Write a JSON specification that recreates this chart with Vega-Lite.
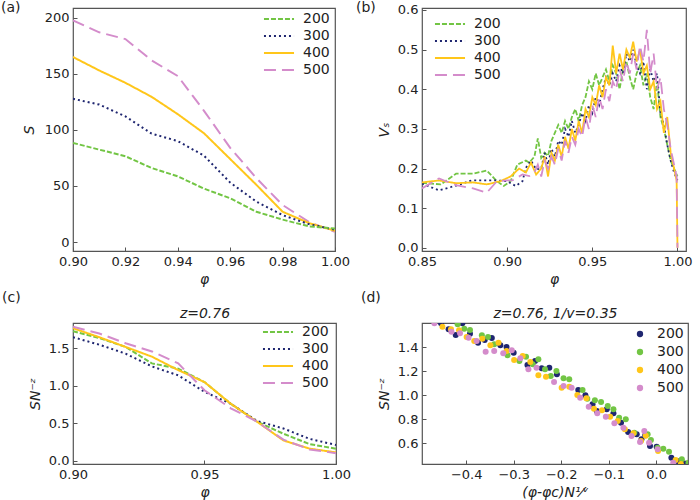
{
"$schema": "https://vega.github.io/schema/vega-lite/v6.json",
"padding": {"left": 0, "top": 0, "right": 0, "bottom": 0},
"background": "white",
"config": {
 "font": "DejaVu Sans",
 "view": {"stroke": "#555555", "strokeWidth": 1.2},
 "axis": {"domain": false, "grid": false, "labelFontSize": 13, "labelColor": "#222222", "titleFontSize": 14, "titleColor": "#222222", "titleFontWeight": "normal", "titleFontStyle": "italic", "tickColor": "#555555", "tickSize": -4, "labelPadding": 8, "labelFlush": false, "labelOverlap": false},
 "title": {"fontSize": 14, "fontWeight": "normal", "anchor": "start", "frame": "group", "color": "#222222"},
 "legend": {"labelFontSize": 14, "labelColor": "#222222"}
},
"datasets": {
 "a": [
  {"phi":0.90,"S":197.6,"N":"500"},{"phi":0.91,"S":187,"N":"500"},{"phi":0.92,"S":181,"N":"500"},{"phi":0.93,"S":162,"N":"500"},{"phi":0.94,"S":148,"N":"500"},{"phi":0.95,"S":117,"N":"500"},{"phi":0.96,"S":84,"N":"500"},{"phi":0.97,"S":57,"N":"500"},{"phi":0.98,"S":33,"N":"500"},{"phi":0.99,"S":18,"N":"500"},{"phi":1.00,"S":9,"N":"500"},
  {"phi":0.90,"S":165,"N":"400"},{"phi":0.91,"S":153,"N":"400"},{"phi":0.92,"S":142,"N":"400"},{"phi":0.93,"S":129.5,"N":"400"},{"phi":0.94,"S":114,"N":"400"},{"phi":0.95,"S":97,"N":"400"},{"phi":0.96,"S":74,"N":"400"},{"phi":0.97,"S":51,"N":"400"},{"phi":0.98,"S":27,"N":"400"},{"phi":0.99,"S":17,"N":"400"},{"phi":1.00,"S":10,"N":"400"},
  {"phi":0.90,"S":127.7,"N":"300"},{"phi":0.91,"S":122.6,"N":"300"},{"phi":0.92,"S":112,"N":"300"},{"phi":0.93,"S":96.7,"N":"300"},{"phi":0.94,"S":90,"N":"300"},{"phi":0.95,"S":77,"N":"300"},{"phi":0.96,"S":53,"N":"300"},{"phi":0.97,"S":36,"N":"300"},{"phi":0.98,"S":24,"N":"300"},{"phi":0.99,"S":16,"N":"300"},{"phi":1.00,"S":11,"N":"300"},
  {"phi":0.90,"S":88.4,"N":"200"},{"phi":0.91,"S":82.4,"N":"200"},{"phi":0.92,"S":76.5,"N":"200"},{"phi":0.93,"S":66,"N":"200"},{"phi":0.94,"S":58.6,"N":"200"},{"phi":0.95,"S":47.6,"N":"200"},{"phi":0.96,"S":39,"N":"200"},{"phi":0.97,"S":27,"N":"200"},{"phi":0.98,"S":20,"N":"200"},{"phi":0.99,"S":14,"N":"200"},{"phi":1.00,"S":12,"N":"200"}
 ],
 "b": [
  {"phi":0.85,"v":0.164,"N":"200"},{"phi":0.861,"v":0.16,"N":"200"},{"phi":0.87,"v":0.187,"N":"200"},{"phi":0.88,"v":0.187,"N":"200"},{"phi":0.888,"v":0.195,"N":"200"},{"phi":0.894,"v":0.168,"N":"200"},{"phi":0.898,"v":0.156,"N":"200"},{"phi":0.902,"v":0.168,"N":"200"},{"phi":0.906,"v":0.21,"N":"200"},{"phi":0.911,"v":0.22,"N":"200"},{"phi":0.913,"v":0.215,"N":"200"},{"phi":0.916,"v":0.23,"N":"200"},{"phi":0.918,"v":0.276,"N":"200"},{"phi":0.92,"v":0.227,"N":"200"},{"phi":0.922,"v":0.24,"N":"200"},{"phi":0.924,"v":0.232,"N":"200"},{"phi":0.926,"v":0.27,"N":"200"},{"phi":0.928,"v":0.29,"N":"200"},{"phi":0.93,"v":0.31,"N":"200"},{"phi":0.932,"v":0.29,"N":"200"},{"phi":0.934,"v":0.32,"N":"200"},{"phi":0.936,"v":0.3,"N":"200"},{"phi":0.938,"v":0.33,"N":"200"},{"phi":0.94,"v":0.35,"N":"200"},{"phi":0.942,"v":0.32,"N":"200"},{"phi":0.944,"v":0.36,"N":"200"},{"phi":0.946,"v":0.38,"N":"200"},{"phi":0.948,"v":0.42,"N":"200"},{"phi":0.95,"v":0.4,"N":"200"},{"phi":0.952,"v":0.44,"N":"200"},{"phi":0.954,"v":0.41,"N":"200"},{"phi":0.956,"v":0.43,"N":"200"},{"phi":0.958,"v":0.45,"N":"200"},{"phi":0.96,"v":0.42,"N":"200"},{"phi":0.962,"v":0.46,"N":"200"},{"phi":0.964,"v":0.44,"N":"200"},{"phi":0.966,"v":0.4,"N":"200"},{"phi":0.968,"v":0.45,"N":"200"},{"phi":0.97,"v":0.47,"N":"200"},{"phi":0.972,"v":0.43,"N":"200"},{"phi":0.974,"v":0.4,"N":"200"},{"phi":0.976,"v":0.44,"N":"200"},{"phi":0.978,"v":0.46,"N":"200"},{"phi":0.98,"v":0.41,"N":"200"},{"phi":0.982,"v":0.44,"N":"200"},{"phi":0.984,"v":0.38,"N":"200"},{"phi":0.986,"v":0.35,"N":"200"},{"phi":0.988,"v":0.42,"N":"200"},{"phi":0.99,"v":0.33,"N":"200"},{"phi":0.992,"v":0.3,"N":"200"},{"phi":0.994,"v":0.26,"N":"200"},{"phi":0.996,"v":0.22,"N":"200"},{"phi":0.998,"v":0.2,"N":"200"},{"phi":1.0,"v":0.18,"N":"200"},
  {"phi":0.85,"v":0.162,"N":"300"},{"phi":0.86,"v":0.145,"N":"300"},{"phi":0.871,"v":0.158,"N":"300"},{"phi":0.879,"v":0.17,"N":"300"},{"phi":0.888,"v":0.17,"N":"300"},{"phi":0.894,"v":0.17,"N":"300"},{"phi":0.9,"v":0.168,"N":"300"},{"phi":0.905,"v":0.156,"N":"300"},{"phi":0.909,"v":0.168,"N":"300"},{"phi":0.911,"v":0.202,"N":"300"},{"phi":0.914,"v":0.22,"N":"300"},{"phi":0.917,"v":0.198,"N":"300"},{"phi":0.92,"v":0.2,"N":"300"},{"phi":0.922,"v":0.24,"N":"300"},{"phi":0.924,"v":0.21,"N":"300"},{"phi":0.926,"v":0.25,"N":"300"},{"phi":0.928,"v":0.23,"N":"300"},{"phi":0.93,"v":0.27,"N":"300"},{"phi":0.932,"v":0.26,"N":"300"},{"phi":0.934,"v":0.3,"N":"300"},{"phi":0.936,"v":0.28,"N":"300"},{"phi":0.938,"v":0.32,"N":"300"},{"phi":0.94,"v":0.29,"N":"300"},{"phi":0.942,"v":0.31,"N":"300"},{"phi":0.944,"v":0.34,"N":"300"},{"phi":0.946,"v":0.32,"N":"300"},{"phi":0.948,"v":0.36,"N":"300"},{"phi":0.95,"v":0.34,"N":"300"},{"phi":0.952,"v":0.38,"N":"300"},{"phi":0.954,"v":0.36,"N":"300"},{"phi":0.956,"v":0.4,"N":"300"},{"phi":0.958,"v":0.43,"N":"300"},{"phi":0.96,"v":0.41,"N":"300"},{"phi":0.962,"v":0.44,"N":"300"},{"phi":0.964,"v":0.42,"N":"300"},{"phi":0.966,"v":0.46,"N":"300"},{"phi":0.968,"v":0.44,"N":"300"},{"phi":0.97,"v":0.49,"N":"300"},{"phi":0.972,"v":0.47,"N":"300"},{"phi":0.974,"v":0.5,"N":"300"},{"phi":0.976,"v":0.46,"N":"300"},{"phi":0.978,"v":0.44,"N":"300"},{"phi":0.98,"v":0.47,"N":"300"},{"phi":0.982,"v":0.4,"N":"300"},{"phi":0.984,"v":0.45,"N":"300"},{"phi":0.986,"v":0.42,"N":"300"},{"phi":0.988,"v":0.44,"N":"300"},{"phi":0.99,"v":0.34,"N":"300"},{"phi":0.992,"v":0.31,"N":"300"},{"phi":0.994,"v":0.26,"N":"300"},{"phi":0.996,"v":0.22,"N":"300"},{"phi":0.998,"v":0.19,"N":"300"},{"phi":1.0,"v":0.17,"N":"300"},
  {"phi":0.85,"v":0.165,"N":"400"},{"phi":0.86,"v":0.17,"N":"400"},{"phi":0.87,"v":0.163,"N":"400"},{"phi":0.88,"v":0.165,"N":"400"},{"phi":0.888,"v":0.16,"N":"400"},{"phi":0.896,"v":0.168,"N":"400"},{"phi":0.902,"v":0.18,"N":"400"},{"phi":0.907,"v":0.2,"N":"400"},{"phi":0.911,"v":0.19,"N":"400"},{"phi":0.914,"v":0.215,"N":"400"},{"phi":0.917,"v":0.185,"N":"400"},{"phi":0.92,"v":0.2,"N":"400"},{"phi":0.922,"v":0.23,"N":"400"},{"phi":0.924,"v":0.18,"N":"400"},{"phi":0.926,"v":0.24,"N":"400"},{"phi":0.928,"v":0.22,"N":"400"},{"phi":0.93,"v":0.26,"N":"400"},{"phi":0.932,"v":0.23,"N":"400"},{"phi":0.934,"v":0.28,"N":"400"},{"phi":0.936,"v":0.25,"N":"400"},{"phi":0.938,"v":0.3,"N":"400"},{"phi":0.94,"v":0.27,"N":"400"},{"phi":0.942,"v":0.32,"N":"400"},{"phi":0.944,"v":0.29,"N":"400"},{"phi":0.946,"v":0.35,"N":"400"},{"phi":0.948,"v":0.33,"N":"400"},{"phi":0.95,"v":0.38,"N":"400"},{"phi":0.952,"v":0.36,"N":"400"},{"phi":0.954,"v":0.41,"N":"400"},{"phi":0.956,"v":0.38,"N":"400"},{"phi":0.958,"v":0.43,"N":"400"},{"phi":0.96,"v":0.41,"N":"400"},{"phi":0.962,"v":0.51,"N":"400"},{"phi":0.964,"v":0.44,"N":"400"},{"phi":0.966,"v":0.49,"N":"400"},{"phi":0.968,"v":0.45,"N":"400"},{"phi":0.97,"v":0.5,"N":"400"},{"phi":0.972,"v":0.48,"N":"400"},{"phi":0.974,"v":0.52,"N":"400"},{"phi":0.976,"v":0.47,"N":"400"},{"phi":0.978,"v":0.5,"N":"400"},{"phi":0.98,"v":0.44,"N":"400"},{"phi":0.982,"v":0.46,"N":"400"},{"phi":0.984,"v":0.4,"N":"400"},{"phi":0.986,"v":0.42,"N":"400"},{"phi":0.988,"v":0.35,"N":"400"},{"phi":0.99,"v":0.37,"N":"400"},{"phi":0.992,"v":0.29,"N":"400"},{"phi":0.994,"v":0.33,"N":"400"},{"phi":0.996,"v":0.24,"N":"400"},{"phi":0.998,"v":0.2,"N":"400"},{"phi":0.9995,"v":0.17,"N":"400"},{"phi":1.0,"v":0.0,"N":"400"},
  {"phi":0.85,"v":0.15,"N":"500"},{"phi":0.86,"v":0.175,"N":"500"},{"phi":0.87,"v":0.158,"N":"500"},{"phi":0.88,"v":0.15,"N":"500"},{"phi":0.888,"v":0.139,"N":"500"},{"phi":0.894,"v":0.168,"N":"500"},{"phi":0.9,"v":0.17,"N":"500"},{"phi":0.903,"v":0.17,"N":"500"},{"phi":0.909,"v":0.185,"N":"500"},{"phi":0.913,"v":0.181,"N":"500"},{"phi":0.916,"v":0.19,"N":"500"},{"phi":0.918,"v":0.21,"N":"500"},{"phi":0.92,"v":0.18,"N":"500"},{"phi":0.922,"v":0.22,"N":"500"},{"phi":0.924,"v":0.2,"N":"500"},{"phi":0.926,"v":0.23,"N":"500"},{"phi":0.928,"v":0.21,"N":"500"},{"phi":0.93,"v":0.25,"N":"500"},{"phi":0.932,"v":0.22,"N":"500"},{"phi":0.934,"v":0.27,"N":"500"},{"phi":0.936,"v":0.24,"N":"500"},{"phi":0.938,"v":0.28,"N":"500"},{"phi":0.94,"v":0.26,"N":"500"},{"phi":0.942,"v":0.3,"N":"500"},{"phi":0.944,"v":0.28,"N":"500"},{"phi":0.946,"v":0.33,"N":"500"},{"phi":0.948,"v":0.3,"N":"500"},{"phi":0.95,"v":0.36,"N":"500"},{"phi":0.952,"v":0.33,"N":"500"},{"phi":0.954,"v":0.38,"N":"500"},{"phi":0.956,"v":0.35,"N":"500"},{"phi":0.958,"v":0.4,"N":"500"},{"phi":0.96,"v":0.37,"N":"500"},{"phi":0.962,"v":0.42,"N":"500"},{"phi":0.964,"v":0.4,"N":"500"},{"phi":0.966,"v":0.45,"N":"500"},{"phi":0.968,"v":0.42,"N":"500"},{"phi":0.97,"v":0.47,"N":"500"},{"phi":0.972,"v":0.44,"N":"500"},{"phi":0.974,"v":0.49,"N":"500"},{"phi":0.976,"v":0.45,"N":"500"},{"phi":0.978,"v":0.51,"N":"500"},{"phi":0.98,"v":0.47,"N":"500"},{"phi":0.982,"v":0.55,"N":"500"},{"phi":0.984,"v":0.44,"N":"500"},{"phi":0.986,"v":0.49,"N":"500"},{"phi":0.988,"v":0.4,"N":"500"},{"phi":0.99,"v":0.43,"N":"500"},{"phi":0.992,"v":0.35,"N":"500"},{"phi":0.994,"v":0.31,"N":"500"},{"phi":0.996,"v":0.25,"N":"500"},{"phi":0.998,"v":0.21,"N":"500"},{"phi":0.9995,"v":0.18,"N":"500"},{"phi":1.0,"v":0.0,"N":"500"}
 ],
 "c": [
  {"phi":0.90,"v":1.73,"N":"200"},{"phi":0.91,"v":1.64,"N":"200"},{"phi":0.92,"v":1.52,"N":"200"},{"phi":0.93,"v":1.30,"N":"200"},{"phi":0.94,"v":1.23,"N":"200"},{"phi":0.95,"v":1.05,"N":"200"},{"phi":0.96,"v":0.76,"N":"200"},{"phi":0.97,"v":0.52,"N":"200"},{"phi":0.98,"v":0.36,"N":"200"},{"phi":0.99,"v":0.22,"N":"200"},{"phi":1.00,"v":0.16,"N":"200"},
  {"phi":0.90,"v":1.65,"N":"300"},{"phi":0.91,"v":1.55,"N":"300"},{"phi":0.92,"v":1.43,"N":"300"},{"phi":0.93,"v":1.26,"N":"300"},{"phi":0.94,"v":1.14,"N":"300"},{"phi":0.95,"v":0.92,"N":"300"},{"phi":0.96,"v":0.76,"N":"300"},{"phi":0.97,"v":0.53,"N":"300"},{"phi":0.98,"v":0.43,"N":"300"},{"phi":0.99,"v":0.29,"N":"300"},{"phi":1.00,"v":0.21,"N":"300"},
  {"phi":0.90,"v":1.77,"N":"400"},{"phi":0.91,"v":1.65,"N":"400"},{"phi":0.92,"v":1.52,"N":"400"},{"phi":0.93,"v":1.39,"N":"400"},{"phi":0.94,"v":1.21,"N":"400"},{"phi":0.95,"v":1.05,"N":"400"},{"phi":0.96,"v":0.76,"N":"400"},{"phi":0.97,"v":0.52,"N":"400"},{"phi":0.98,"v":0.27,"N":"400"},{"phi":0.99,"v":0.16,"N":"400"},{"phi":1.00,"v":0.11,"N":"400"},
  {"phi":0.90,"v":1.79,"N":"500"},{"phi":0.91,"v":1.70,"N":"500"},{"phi":0.92,"v":1.57,"N":"500"},{"phi":0.93,"v":1.46,"N":"500"},{"phi":0.94,"v":1.30,"N":"500"},{"phi":0.95,"v":0.94,"N":"500"},{"phi":0.96,"v":0.70,"N":"500"},{"phi":0.97,"v":0.52,"N":"500"},{"phi":0.98,"v":0.28,"N":"500"},{"phi":0.99,"v":0.15,"N":"500"},{"phi":1.00,"v":0.10,"N":"500"}
 ],
 "d": [
  {"x":-0.453,"v":1.597,"N":"200"},{"x":-0.437,"v":1.547,"N":"200"},{"x":-0.422,"v":1.5,"N":"200"},{"x":-0.408,"v":1.597,"N":"200"},{"x":-0.392,"v":1.511,"N":"200"},{"x":-0.375,"v":1.436,"N":"200"},{"x":-0.361,"v":1.458,"N":"200"},{"x":-0.346,"v":1.475,"N":"200"},{"x":-0.328,"v":1.414,"N":"200"},{"x":-0.315,"v":1.4,"N":"200"},{"x":-0.3,"v":1.353,"N":"200"},{"x":-0.271,"v":1.25,"N":"200"},{"x":-0.255,"v":1.283,"N":"200"},{"x":-0.241,"v":1.222,"N":"200"},{"x":-0.225,"v":1.228,"N":"200"},{"x":-0.209,"v":1.172,"N":"200"},{"x":-0.164,"v":1.042,"N":"200"},{"x":-0.149,"v":0.997,"N":"200"},{"x":-0.134,"v":0.922,"N":"200"},{"x":-0.125,"v":0.867,"N":"200"},{"x":-0.104,"v":0.881,"N":"200"},{"x":-0.09,"v":0.847,"N":"200"},{"x":-0.074,"v":0.769,"N":"200"},{"x":-0.059,"v":0.692,"N":"200"},{"x":-0.041,"v":0.672,"N":"200"},{"x":-0.031,"v":0.631,"N":"200"},{"x":-0.023,"v":0.664,"N":"200"},{"x":-0.013,"v":0.575,"N":"200"},{"x":0.001,"v":0.569,"N":"200"},{"x":0.032,"v":0.478,"N":"200"},{"x":0.046,"v":0.447,"N":"200"},{"x":0.06,"v":0.43,"N":"200"},
  {"x":-0.418,"v":1.589,"N":"300"},{"x":-0.404,"v":1.553,"N":"300"},{"x":-0.392,"v":1.542,"N":"300"},{"x":-0.367,"v":1.497,"N":"300"},{"x":-0.354,"v":1.483,"N":"300"},{"x":-0.341,"v":1.422,"N":"300"},{"x":-0.313,"v":1.331,"N":"300"},{"x":-0.288,"v":1.283,"N":"300"},{"x":-0.274,"v":1.319,"N":"300"},{"x":-0.26,"v":1.256,"N":"300"},{"x":-0.248,"v":1.297,"N":"300"},{"x":-0.234,"v":1.214,"N":"300"},{"x":-0.222,"v":1.158,"N":"300"},{"x":-0.21,"v":1.2,"N":"300"},{"x":-0.195,"v":1.139,"N":"300"},{"x":-0.183,"v":1.131,"N":"300"},{"x":-0.155,"v":1.042,"N":"300"},{"x":-0.145,"v":0.969,"N":"300"},{"x":-0.129,"v":0.956,"N":"300"},{"x":-0.116,"v":0.942,"N":"300"},{"x":-0.102,"v":0.908,"N":"300"},{"x":-0.09,"v":0.881,"N":"300"},{"x":-0.078,"v":0.811,"N":"300"},{"x":-0.064,"v":0.797,"N":"300"},{"x":-0.046,"v":0.686,"N":"300"},{"x":-0.018,"v":0.672,"N":"300"},{"x":-0.011,"v":0.625,"N":"300"},{"x":0.003,"v":0.56,"N":"300"},{"x":0.015,"v":0.553,"N":"300"},{"x":0.027,"v":0.528,"N":"300"},{"x":0.054,"v":0.464,"N":"300"},{"x":0.068,"v":0.436,"N":"300"},
  {"x":-0.45,"v":1.569,"N":"400"},{"x":-0.432,"v":1.547,"N":"400"},{"x":-0.415,"v":1.539,"N":"400"},{"x":-0.399,"v":1.483,"N":"400"},{"x":-0.383,"v":1.45,"N":"400"},{"x":-0.366,"v":1.469,"N":"400"},{"x":-0.349,"v":1.414,"N":"400"},{"x":-0.332,"v":1.436,"N":"400"},{"x":-0.315,"v":1.367,"N":"400"},{"x":-0.299,"v":1.292,"N":"400"},{"x":-0.281,"v":1.325,"N":"400"},{"x":-0.265,"v":1.275,"N":"400"},{"x":-0.248,"v":1.164,"N":"400"},{"x":-0.232,"v":1.153,"N":"400"},{"x":-0.199,"v":1.061,"N":"400"},{"x":-0.183,"v":1.069,"N":"400"},{"x":-0.166,"v":1.0,"N":"400"},{"x":-0.147,"v":0.972,"N":"400"},{"x":-0.131,"v":0.886,"N":"400"},{"x":-0.114,"v":0.872,"N":"400"},{"x":-0.097,"v":0.819,"N":"400"},{"x":-0.081,"v":0.783,"N":"400"},{"x":-0.066,"v":0.714,"N":"400"},{"x":-0.048,"v":0.681,"N":"400"},{"x":-0.032,"v":0.617,"N":"400"},{"x":-0.022,"v":0.66,"N":"400"},{"x":0.004,"v":0.533,"N":"400"},{"x":0.041,"v":0.458,"N":"400"},{"x":0.052,"v":0.425,"N":"400"},
  {"x":-0.467,"v":1.597,"N":"500"},{"x":-0.431,"v":1.528,"N":"500"},{"x":-0.413,"v":1.514,"N":"500"},{"x":-0.395,"v":1.478,"N":"500"},{"x":-0.378,"v":1.45,"N":"500"},{"x":-0.359,"v":1.361,"N":"500"},{"x":-0.341,"v":1.367,"N":"500"},{"x":-0.322,"v":1.347,"N":"500"},{"x":-0.304,"v":1.372,"N":"500"},{"x":-0.286,"v":1.306,"N":"500"},{"x":-0.269,"v":1.214,"N":"500"},{"x":-0.252,"v":1.228,"N":"500"},{"x":-0.215,"v":1.108,"N":"500"},{"x":-0.195,"v":1.075,"N":"500"},{"x":-0.178,"v":1.061,"N":"500"},{"x":-0.16,"v":0.978,"N":"500"},{"x":-0.142,"v":0.903,"N":"500"},{"x":-0.124,"v":0.847,"N":"500"},{"x":-0.106,"v":0.819,"N":"500"},{"x":-0.088,"v":0.764,"N":"500"},{"x":-0.069,"v":0.728,"N":"500"},{"x":-0.052,"v":0.658,"N":"500"},{"x":-0.034,"v":0.608,"N":"500"},{"x":-0.025,"v":0.7,"N":"500"},{"x":-0.015,"v":0.603,"N":"500"},{"x":0.003,"v":0.547,"N":"500"},{"x":0.036,"v":0.436,"N":"500"}
 ]
},
"columns": 2,
"spacing": {"row": 72, "column": 86},
"bounds": "flush",
"resolve": {"scale": {"x": "independent", "y": "independent", "color": "independent", "strokeDash": "independent"}, "legend": {"color": "independent", "strokeDash": "independent"}, "axis": {"x": "independent", "y": "independent"}},
"concat": [
 {
  "width": 262, "height": 243,
  "data": {"name": "a"},
  "title": {"text": "(a)", "dx": -72, "offset": -7},
  "mark": {"type": "line", "strokeWidth": 2, "clip": true},
  "encoding": {
   "x": {"field": "phi", "type": "quantitative", "scale": {"domain": [0.9, 1.0], "nice": false, "zero": false}, "axis": {"title": "φ", "values": [0.9, 0.92, 0.94, 0.96, 0.98, 1.0], "format": ".2f"}},
   "y": {"field": "S", "type": "quantitative", "scale": {"domain": [-8, 208.7], "nice": false, "zero": false}, "axis": {"title": "S", "values": [0, 50, 100, 150, 200], "titlePadding": 8}},
   "color": {"field": "N", "type": "nominal", "scale": {"domain": ["200", "300", "400", "500"], "range": ["#72c544", "#1f2670", "#ffc61a", "#d48ccb"]}, "legend": {"title": null, "orient": "none", "legendX": 196, "legendY": 1, "padding": 0, "symbolType": "M-1.67,0H1.67", "symbolSize": 324, "symbolStrokeWidth": 2, "labelOffset": 14, "rowPadding": 0}},
   "strokeDash": {"field": "N", "type": "nominal", "scale": {"domain": ["200", "300", "400", "500"], "range": [[5, 2], [2, 3], [1, 0], [12, 6]]}, "legend": {"title": null, "orient": "none", "legendX": 196, "legendY": 1, "padding": 0, "symbolType": "M-1.67,0H1.67", "symbolSize": 324, "symbolStrokeWidth": 2, "labelOffset": 14, "rowPadding": 0}}
  }
 },
 {
  "width": 264, "height": 243,
  "data": {"name": "b"},
  "title": {"text": "(b)", "dx": -66, "offset": -11},
  "mark": {"type": "line", "strokeWidth": 1.8, "clip": true},
  "encoding": {
   "x": {"field": "phi", "type": "quantitative", "scale": {"domain": [0.85, 1.005], "nice": false, "zero": false}, "axis": {"title": "φ", "values": [0.85, 0.9, 0.95, 1.0], "format": ".2f"}},
   "y": {"field": "v", "type": "quantitative", "scale": {"domain": [-0.008, 0.605], "nice": false, "zero": false}, "axis": {"title": "Vₛ", "values": [0, 0.1, 0.2, 0.3, 0.4, 0.5, 0.6], "format": ".1f", "titlePadding": 6}},
   "color": {"field": "N", "type": "nominal", "scale": {"domain": ["200", "300", "400", "500"], "range": ["#72c544", "#1f2670", "#ffc61a", "#d48ccb"]}, "legend": {"title": null, "orient": "none", "legendX": 18, "legendY": 6, "padding": 0, "symbolType": "M-1.67,0H1.67", "symbolSize": 324, "symbolStrokeWidth": 2, "labelOffset": 14, "rowPadding": 0}},
   "strokeDash": {"field": "N", "type": "nominal", "scale": {"domain": ["200", "300", "400", "500"], "range": [[5, 2], [2, 3], [1, 0], [12, 6]]}, "legend": {"title": null, "orient": "none", "legendX": 18, "legendY": 6, "padding": 0, "symbolType": "M-1.67,0H1.67", "symbolSize": 324, "symbolStrokeWidth": 2, "labelOffset": 14, "rowPadding": 0}}
  }
 },
 {
  "width": 263, "height": 141,
  "data": {"name": "c"},
  "title": {"text": "(c)", "dx": -71, "offset": 1},
  "encoding": {
   "y": {"field": "v", "type": "quantitative", "scale": {"domain": [-0.045, 1.84], "nice": false, "zero": false}, "axis": {"title": "SN⁻ᶻ", "values": [0, 0.5, 1, 1.5], "format": ".1f", "titlePadding": 6}}
  },
  "layer": [
   {
    "mark": {"type": "line", "strokeWidth": 2, "clip": true},
    "encoding": {
     "x": {"field": "phi", "type": "quantitative", "scale": {"domain": [0.9, 1.0], "nice": false, "zero": false}, "axis": {"title": "φ", "values": [0.9, 0.95, 1.0], "format": ".2f"}},
     "color": {"field": "N", "type": "nominal", "scale": {"domain": ["200", "300", "400", "500"], "range": ["#72c544", "#1f2670", "#ffc61a", "#d48ccb"]}, "legend": {"title": null, "orient": "none", "legendX": 195, "legendY": -1, "padding": 0, "symbolType": "M-1.67,0H1.67", "symbolSize": 324, "symbolStrokeWidth": 2, "labelOffset": 14, "rowPadding": 0}},
     "strokeDash": {"field": "N", "type": "nominal", "scale": {"domain": ["200", "300", "400", "500"], "range": [[5, 2], [2, 3], [1, 0], [12, 6]]}, "legend": {"title": null, "orient": "none", "legendX": 195, "legendY": -1, "padding": 0, "symbolType": "M-1.67,0H1.67", "symbolSize": 324, "symbolStrokeWidth": 2, "labelOffset": 14, "rowPadding": 0}}
    }
   },
   {
    "mark": {"type": "line", "opacity": 0},
    "encoding": {
     "x": {"field": "phi", "type": "quantitative", "axis": {"orient": "top", "title": "z=0.76", "labels": false, "ticks": false, "domain": false, "titlePadding": 3}},
     "detail": {"field": "N"}
    }
   }
  ],
  "resolve": {"axis": {"x": "independent"}}
 },
 {
  "width": 266, "height": 141,
  "data": {"name": "d"},
  "title": {"text": "(d)", "dx": -61, "offset": 1},
  "encoding": {
   "y": {"field": "v", "type": "quantitative", "scale": {"domain": [0.425, 1.6], "nice": false, "zero": false}, "axis": {"title": "SN⁻ᶻ", "values": [0.6, 0.8, 1.0, 1.2, 1.4], "format": ".1f", "titlePadding": 6}}
  },
  "layer": [
   {
    "mark": {"type": "point", "filled": true, "size": 36, "opacity": 1, "clip": true},
    "encoding": {
     "x": {"field": "x", "type": "quantitative", "scale": {"domain": [-0.493, 0.067], "nice": false, "zero": false}, "axis": {"title": "(φ-φc)N¹⁄ᵛ", "values": [-0.4, -0.3, -0.2, -0.1, 0.0], "format": ".1f"}},
     "color": {"field": "N", "type": "nominal", "scale": {"domain": ["200", "300", "400", "500"], "range": ["#1f2670", "#72c544", "#ffc61a", "#d48ccb"]}, "legend": {"title": null, "orient": "top-right", "offset": 4, "padding": 0, "symbolType": "circle", "symbolSize": 40, "labelOffset": 10, "rowPadding": 4}}
    }
   },
   {
    "mark": {"type": "point", "opacity": 0},
    "encoding": {
     "x": {"field": "x", "type": "quantitative", "axis": {"orient": "top", "title": "z=0.76, 1/v=0.35", "labels": false, "ticks": false, "domain": false, "titlePadding": 3}}
    }
   }
  ],
  "resolve": {"axis": {"x": "independent"}}
 }
]
}
